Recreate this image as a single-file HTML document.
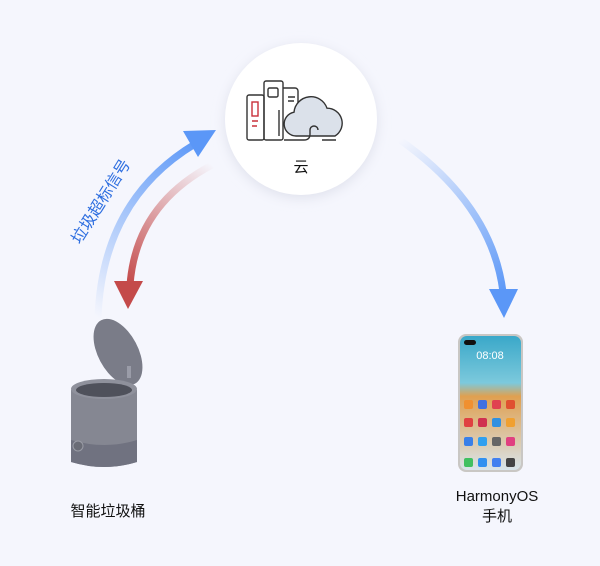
<!DOCTYPE html>
<html><head><meta charset="utf-8"><style>
html,body{margin:0;padding:0;background:#f5f6fd;}
body{width:600px;height:566px;position:relative;overflow:hidden;font-family:"Liberation Sans","Noto Sans CJK SC",sans-serif;}
.t{position:absolute;font-size:15px;color:#111;text-align:center;}
</style></head><body>
<svg width="600" height="566" style="position:absolute;left:0;top:0">
<defs>
<linearGradient id="gb" x1="98" y1="318" x2="200" y2="140" gradientUnits="userSpaceOnUse"><stop offset="0" stop-color="#5b97f7" stop-opacity="0"/><stop offset="1" stop-color="#5b97f7"/></linearGradient>
<linearGradient id="gr" x1="212" y1="165" x2="130" y2="285" gradientUnits="userSpaceOnUse"><stop offset="0" stop-color="#c44a4a" stop-opacity="0"/><stop offset="1" stop-color="#c44a4a"/></linearGradient>
<linearGradient id="gb2" x1="400" y1="140" x2="503" y2="295" gradientUnits="userSpaceOnUse"><stop offset="0" stop-color="#5b97f7" stop-opacity="0"/><stop offset="1" stop-color="#5b97f7"/></linearGradient>
<filter id="sh" x="-30%" y="-30%" width="160%" height="160%"><feGaussianBlur stdDeviation="6"/></filter>
<linearGradient id="scr" x1="0" y1="0" x2="0" y2="1"><stop offset="0" stop-color="#3aa8c9"/><stop offset="0.35" stop-color="#7cc9dc"/><stop offset="0.45" stop-color="#e0a050"/><stop offset="1" stop-color="#d8e4ea"/></linearGradient>
</defs>
<path d="M98 318 Q102 200 195 144" fill="none" stroke="url(#gb)" stroke-width="7"/>
<polygon points="183,131 216,130 198,157" fill="#5b97f7"/>
<path d="M212 165 Q136 205 130 285" fill="none" stroke="url(#gr)" stroke-width="7"/>
<polygon points="114,281 143,281 128,309" fill="#c44a4a"/>
<path d="M400 140 Q492 205 503 292" fill="none" stroke="url(#gb2)" stroke-width="7"/>
<polygon points="489,289 518,289 504,318" fill="#5b97f7"/>
<circle cx="301" cy="122" r="76" fill="#dfe1ec" filter="url(#sh)"/>
<circle cx="301" cy="119" r="76" fill="#fff"/>
<g fill="none" stroke="#333" stroke-width="1.4">
<rect x="247" y="95" width="17" height="45" rx="2"/>
<rect x="264" y="81" width="19" height="59" rx="2"/>
<rect x="268" y="88" width="10" height="9" rx="1.5"/>
<path d="M283 88 h12 a3 3 0 0 1 3 3 v12"/>
<path d="M288 97 h7 M288 101 h6 M279 110 v26"/>
</g>
<path d="M296 136 a12 12 0 0 1 -2 -23.8 a17 17 0 0 1 33 -4 a15 15 0 0 1 8 27.8 z" fill="#dbe1ea" stroke="#333" stroke-width="1.4"/>
<g fill="none" stroke="#333" stroke-width="1.4">
<path d="M318 130 a4 4 0 0 0 -8 0 v4 q0 6 -6 6 h-20 M322 140 h14"/>
</g>
<g stroke="#c9303a" stroke-width="1.4" fill="none"><rect x="252" y="102" width="6" height="14"/><path d="M252 121 h6 M252 126 h5"/></g>
<!-- trash can -->
<ellipse cx="118" cy="352" rx="20" ry="36" transform="rotate(-28 118 352)" fill="#7a7c88"/>
<rect x="127" y="366" width="4" height="12" fill="#9a9ca8"/>
<path d="M71 390 v72 q34 10 66 0 v-72 z" fill="#858792"/>
<path d="M71 440 q34 10 66 0 v22 q-33 10 -66 0 z" fill="#707280"/>
<ellipse cx="104" cy="389" rx="33" ry="10" fill="#8f919c"/>
<ellipse cx="104" cy="390" rx="28" ry="7" fill="#4f515b"/>
<circle cx="78" cy="446" r="5" fill="#6a6c76" stroke="#9a9ca6"/>
<!-- phone -->
<rect x="458" y="334" width="65" height="138" rx="8" fill="#c9c7c4"/>
<rect x="460" y="336" width="61" height="134" rx="7" fill="url(#scr)"/>
<rect x="464" y="340" width="12" height="5" rx="2.5" fill="#111"/>
<text x="490" y="359" font-size="11" fill="#fff" text-anchor="middle" font-family="Liberation Sans">08:08</text>
<g>
<rect x="464" y="400" width="9" height="9" rx="2" fill="#f09030"/><rect x="478" y="400" width="9" height="9" rx="2" fill="#4070e0"/><rect x="492" y="400" width="9" height="9" rx="2" fill="#e04050"/><rect x="506" y="400" width="9" height="9" rx="2" fill="#e05030"/>
<rect x="464" y="418" width="9" height="9" rx="2" fill="#e04040"/><rect x="478" y="418" width="9" height="9" rx="2" fill="#d03050"/><rect x="492" y="418" width="9" height="9" rx="2" fill="#3090e0"/><rect x="506" y="418" width="9" height="9" rx="2" fill="#f0a030"/>
<rect x="464" y="437" width="9" height="9" rx="2" fill="#3a80e8"/><rect x="478" y="437" width="9" height="9" rx="2" fill="#30a0f0"/><rect x="492" y="437" width="9" height="9" rx="2" fill="#666"/><rect x="506" y="437" width="9" height="9" rx="2" fill="#e04080"/>
<rect x="464" y="458" width="9" height="9" rx="2" fill="#40c060"/><rect x="478" y="458" width="9" height="9" rx="2" fill="#3090f0"/><rect x="492" y="458" width="9" height="9" rx="2" fill="#4080f0"/><rect x="506" y="458" width="9" height="9" rx="2" fill="#444"/>
</g>
<text transform="translate(80,245) rotate(-58)" font-size="16" fill="#2f6fe0" font-family="Liberation Sans, Noto Sans CJK SC, sans-serif">垃圾超标信号</text>
</svg>
<div class="t" style="left:281px;top:156px;width:40px;">云</div>
<div class="t" style="left:48px;top:500px;width:120px;">智能垃圾桶</div>
<div class="t" style="left:437px;top:487px;width:120px;line-height:20px;">HarmonyOS<br>手机</div>
</body></html>
